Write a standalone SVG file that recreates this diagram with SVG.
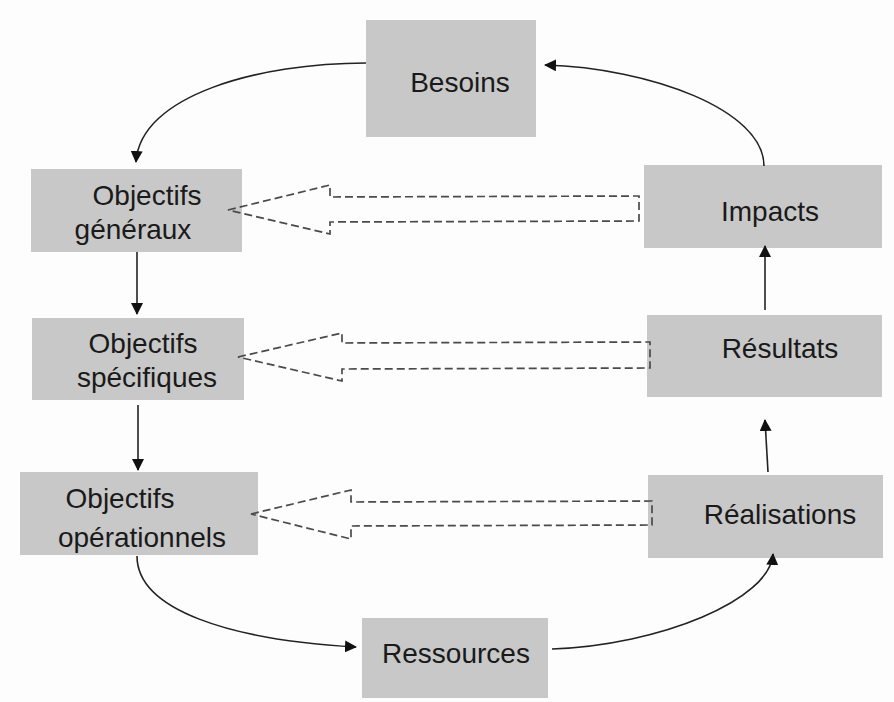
<svg xmlns="http://www.w3.org/2000/svg" width="894" height="702" viewBox="0 0 894 702">
<style>
.box{fill:#c8c8c8}
.t{font-family:"Liberation Sans",Arial,sans-serif;font-size:28px;fill:#1a1a1a;text-anchor:middle}
.c{fill:none;stroke:#222;stroke-width:1.6}
.d{fill:none;stroke:#4a4a4a;stroke-width:1.7;stroke-dasharray:8 4}
</style>
<defs>
<marker id="ah" viewBox="0 0 12 12" refX="11" refY="6" markerWidth="12" markerHeight="12" markerUnits="userSpaceOnUse" orient="auto">
<path d="M0,0 L12,6 L0,12 Z" fill="#111"/>
</marker>
</defs>
<rect width="894" height="702" fill="#fdfdfd"/>
<g id="besoins"><rect class="box" x="366" y="20" width="170" height="117"/><text class="t" x="460" y="92">Besoins</text></g>
<g id="obj-generaux"><rect class="box" x="31" y="169" width="211" height="83"/><text class="t" x="147" y="205">Objectifs</text><text class="t" x="133" y="239">généraux</text></g>
<g id="impacts"><rect class="box" x="644" y="165" width="238" height="83"/><text class="t" x="770" y="221">Impacts</text></g>
<g id="obj-specifiques"><rect class="box" x="32" y="318" width="212" height="82"/><text class="t" x="143" y="353">Objectifs</text><text class="t" x="147" y="387">spécifiques</text></g>
<g id="resultats"><rect class="box" x="647" y="315" width="235" height="82"/><text class="t" x="780" y="358">Résultats</text></g>
<g id="obj-operationnels"><rect class="box" x="20" y="472" width="238" height="83"/><text class="t" x="120" y="508">Objectifs</text><text class="t" x="142" y="547">opérationnels</text></g>
<g id="realisations"><rect class="box" x="648" y="475" width="235" height="83"/><text class="t" x="780" y="524">Réalisations</text></g>
<g id="ressources"><rect class="box" x="362" y="618" width="186" height="80"/><text class="t" x="456" y="663">Ressources</text></g>
<g id="connectors">
<path class="c" d="M366,63 C260,63 140,95 136,162" marker-end="url(#ah)"/>
<path class="c" d="M137,252 L137,314" marker-end="url(#ah)"/>
<path class="c" d="M138,405 L138,470" marker-end="url(#ah)"/>
<path class="c" d="M137,556 C137,610 230,640 356,647" marker-end="url(#ah)"/>
<path class="c" d="M552,649 C660,645 770,600 773,554" marker-end="url(#ah)"/>
<path class="c" d="M768,472 L765,420" marker-end="url(#ah)"/>
<path class="c" d="M765,310 L765,246" marker-end="url(#ah)"/>
<path class="c" d="M764,166 C764,110 650,68 545,65" marker-end="url(#ah)"/>
<polygon class="d" points="228,210 330,185 330,197 639,196 639,221 330,222 330,234"/>
<polygon class="d" points="238,357 342,333 342,343 650,342 650,368 342,369 342,381"/>
<polygon class="d" points="251,514 351,490 351,502 652,501 652,525 351,526 351,539"/>
</g>
</svg>
